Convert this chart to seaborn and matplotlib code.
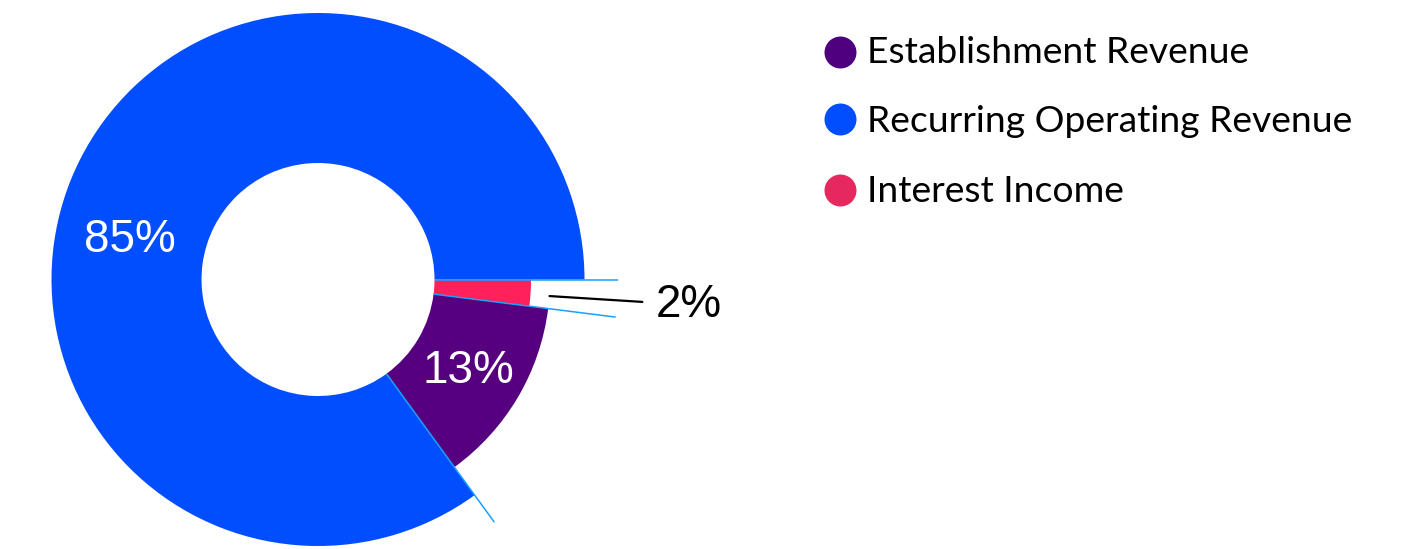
import numpy as np
import matplotlib
matplotlib.use("Agg")
import matplotlib.pyplot as plt
import seaborn as sns

# ---- data ----
categories = ["Recurring Operating Revenue", "Establishment Revenue", "Interest Income"]
values = [85, 13, 2]
pct_labels = ["85%", "13%", "2%"]
legend_order = ["Establishment Revenue", "Recurring Operating Revenue", "Interest Income"]

# ---- style ----
sns.set_theme(style="white")
plt.rcParams['font.family'] = ['Liberation Sans', 'DejaVu Sans']
color_map = {"Recurring Operating Revenue": "#004eff",
             "Establishment Revenue": "#57007f",
             "Interest Income": "#ff205c"}
legend_colors = {"Recurring Operating Revenue": "#004eff",
                 "Establishment Revenue": "#4e007f",
                 "Interest Income": "#e6285e"}
palette = sns.color_palette([color_map[c] for c in categories])
outer_r = {"Recurring Operating Revenue": 266.5,
           "Establishment Revenue": 232,
           "Interest Income": 213}
inner_r = 116.5
sep_r = 300
cx, cy = 318, 269.5

fig = plt.figure(figsize=(14.09, 5.49), dpi=100)
ax = fig.add_axes([0, 0, 1, 1])

wedges, _ = ax.pie(values, colors=palette, startangle=0, counterclock=True,
                   center=(cx, cy), radius=outer_r[categories[0]],
                   wedgeprops=dict(width=outer_r[categories[0]] - inner_r, linewidth=0),
                   frame=True)
for w, c in zip(wedges, categories):
    w.set_radius(outer_r[c])
    w.set_width(outer_r[c] - inner_r)

ax.set_xlim(0, 1409)
ax.set_ylim(0, 549)
ax.set_aspect('equal')
ax.axis('off')

# slice boundary strokes
total = sum(values)
bounds = 360 * np.concatenate([[0], np.cumsum(values)[:-1]]) / total
for th in bounds:
    t = np.deg2rad(th)
    ax.plot([cx + inner_r * np.cos(t), cx + sep_r * np.cos(t)],
            [cy + inner_r * np.sin(t), cy + sep_r * np.sin(t)],
            color="#1aa0ff", lw=1.1, zorder=5, solid_capstyle='butt')

# percentage labels
mids = bounds + 180 * np.array(values) / total
fs = 33
ax.text(129.5, 297.3, pct_labels[0], color="white", fontsize=fs, ha="center", va="baseline", zorder=6)
t1 = np.deg2rad(mids[1])
rm = (inner_r + outer_r[categories[1]]) / 2
ax.text(cx + rm * np.cos(t1), 166, pct_labels[1], color="white", fontsize=fs,
        ha="center", va="baseline", zorder=6)
t2 = np.deg2rad(mids[2])
ax.plot([cx + 232 * np.cos(t2), cx + 325 * np.cos(t2)],
        [cy + 232 * np.sin(t2) - 2, cy + 325 * np.sin(t2) - 2],
        color="black", lw=1.6, zorder=6)
ax.text(656, 232, pct_labels[2], color="black", fontsize=fs, ha="left", va="baseline", zorder=6)

# legend
leg_circle_y = [497.5, 430.5, 359]
leg_text_y = [486, 417.3, 347.3]
for name, yc, yt in zip(legend_order, leg_circle_y, leg_text_y):
    ax.scatter([840], [yc], s=530, color=legend_colors[name], linewidths=0, zorder=6)
    ax.text(867, yt, name, fontsize=26.8, family=['Lato', 'DejaVu Sans'],
            color="black", ha="left", va="baseline")

fig.savefig("out.png", dpi=100)
